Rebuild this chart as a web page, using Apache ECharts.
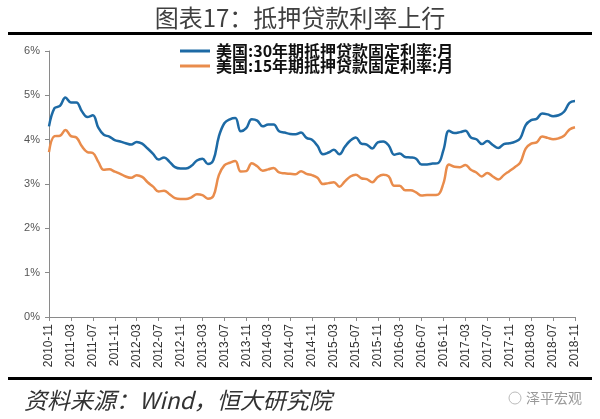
<!DOCTYPE html>
<html><head><meta charset="utf-8">
<script src="https://cdn.jsdelivr.net/npm/echarts@6/dist/echarts.min.js"></script>
<style>html,body{margin:0;padding:0;background:#fff}#c{width:600px;height:419px}</style>
</head><body><div id="c"></div>
<script>
// monthly categories 2010-11 .. 2018-11
const categories = [];
for (let y = 2010, m = 11; ; m++) {
  if (m > 12) { m = 1; y++; }
  if (y > 2018 || (y === 2018 && m > 11)) break;
  categories.push(y + '-' + (m < 10 ? '0' + m : '' + m));
}
const seriesNames = ['美国:30年期抵押贷款固定利率:月', '美国:15年期抵押贷款固定利率:月'];
const rate30 = [
  4.30, 4.71, 4.76, 4.95, 4.84, 4.84, 4.64, 4.51, 4.55, 4.27, 4.11, 4.07,
  3.99, 3.96, 3.92, 3.89, 3.95, 3.91, 3.80, 3.68, 3.55, 3.60, 3.50, 3.38,
  3.35, 3.35, 3.41, 3.53, 3.57, 3.45, 3.54, 4.07, 4.37, 4.46, 4.49, 4.19,
  4.26, 4.46, 4.43, 4.30, 4.34, 4.34, 4.19, 4.16, 4.13, 4.12, 4.16, 4.04,
  4.00, 3.86, 3.67, 3.71, 3.77, 3.67, 3.84, 3.98, 4.05, 3.91, 3.89, 3.80,
  3.94, 3.96, 3.87, 3.66, 3.69, 3.61, 3.60, 3.57, 3.44, 3.44, 3.46, 3.47,
  3.77, 4.20, 4.15, 4.17, 4.20, 4.05, 4.01, 3.90, 3.97, 3.88, 3.81, 3.90,
  3.92, 3.95, 4.03, 4.33, 4.44, 4.47, 4.59, 4.57, 4.53, 4.55, 4.63, 4.83,
  4.87
];
const rate15 = [
  3.72, 4.08, 4.09, 4.22, 4.08, 4.05, 3.85, 3.72, 3.70, 3.50, 3.32, 3.33,
  3.28, 3.23, 3.17, 3.14, 3.20, 3.16, 3.04, 2.94, 2.83, 2.85, 2.77, 2.68,
  2.66, 2.66, 2.70, 2.77, 2.75, 2.67, 2.73, 3.20, 3.42, 3.48, 3.52, 3.28,
  3.29, 3.47, 3.40, 3.30, 3.33, 3.36, 3.26, 3.24, 3.23, 3.22, 3.29, 3.23,
  3.20, 3.14, 3.00, 3.02, 3.04, 2.94, 3.06, 3.17, 3.21, 3.13, 3.11, 3.04,
  3.16, 3.21, 3.17, 2.96, 2.96, 2.86, 2.86, 2.81, 2.74, 2.75, 2.75, 2.76,
  3.02, 3.44, 3.39, 3.38, 3.43, 3.32, 3.26, 3.17, 3.25, 3.17, 3.10, 3.20,
  3.29, 3.38, 3.48, 3.80, 3.91, 3.94, 4.07, 4.04, 4.01, 4.03, 4.09, 4.23,
  4.28
];
const yTicks = { min: 0, max: 6, interval: 1 };

const chart = echarts.init(document.getElementById('c'), null, { renderer: 'canvas' });
chart.setOption({
  animation: false,
  backgroundColor: '#fff',
  grid: { left: 49, right: 25, top: 51, bottom: 102 },
  legend: {
    orient: 'vertical', left: 175, top: 38, icon: 'rect', itemWidth: 30, itemHeight: 3, itemGap: -1,
    textStyle: { fontSize: 16, fontWeight: 'bold', color: '#111', padding: [0, 0, 0, 1], fontFamily: "'Noto Sans CJK SC', sans-serif" },
    data: seriesNames
  },
  xAxis: {
    type: 'category', data: categories, boundaryGap: false,
    axisLine: { lineStyle: { color: '#8a8a8a', width: 1 } },
    axisTick: { interval: 3, length: 4, lineStyle: { color: '#8a8a8a' } },
    axisLabel: { interval: 3, rotate: 90, fontSize: 12, color: '#333', margin: 7, fontFamily: 'Arial, Liberation Sans, sans-serif' }
  },
  yAxis: {
    type: 'value', min: yTicks.min, max: yTicks.max, interval: yTicks.interval,
    axisLine: { show: true, lineStyle: { color: '#8a8a8a', width: 1 } },
    axisTick: { show: true, length: 4, lineStyle: { color: '#8a8a8a' } },
    splitLine: { show: false },
    axisLabel: { formatter: '{value}%', fontSize: 11, color: '#555', margin: 9, fontFamily: 'Arial, Liberation Sans, sans-serif' }
  },
  series: [
    { name: seriesNames[0], type: 'line', data: rate30, smooth: 0.4, symbol: 'none',
      lineStyle: { color: '#1d6aa5', width: 2.5 }, itemStyle: { color: '#1d6aa5' } },
    { name: seriesNames[1], type: 'line', data: rate15, smooth: 0.4, symbol: 'none',
      lineStyle: { color: '#e98c4c', width: 2.5 }, itemStyle: { color: '#e98c4c' } }
  ],
  graphic: [
    { type: 'text', style: { x: 300, y: 18, align: 'center', verticalAlign: 'middle', text: '图表17：抵押贷款利率上行', fontSize: 24, fill: '#404040', fontFamily: "'Noto Sans CJK SC', sans-serif" } },
    { type: 'rect', shape: { x: 8, y: 32, width: 584, height: 3 }, style: { fill: '#000' } },
    { type: 'rect', shape: { x: 8, y: 377, width: 584, height: 3 }, style: { fill: '#000' } },
    { type: 'text', style: { x: 24, y: 400, verticalAlign: 'middle', text: '资料来源：Wind，恒大研究院', fontSize: 23, fontStyle: 'italic', fill: '#333', fontFamily: "'Noto Sans CJK SC', sans-serif" } },
    { type: 'circle', shape: { cx: 515, cy: 398, r: 6 }, style: { fill: 'none', stroke: '#bbb', lineWidth: 1 } },
    { type: 'text', style: { x: 526, y: 398, verticalAlign: 'middle', text: '泽平宏观', fontSize: 14, fill: '#999', fontFamily: "'Noto Sans CJK SC', sans-serif" } }
  ]
});
</script></body></html>
